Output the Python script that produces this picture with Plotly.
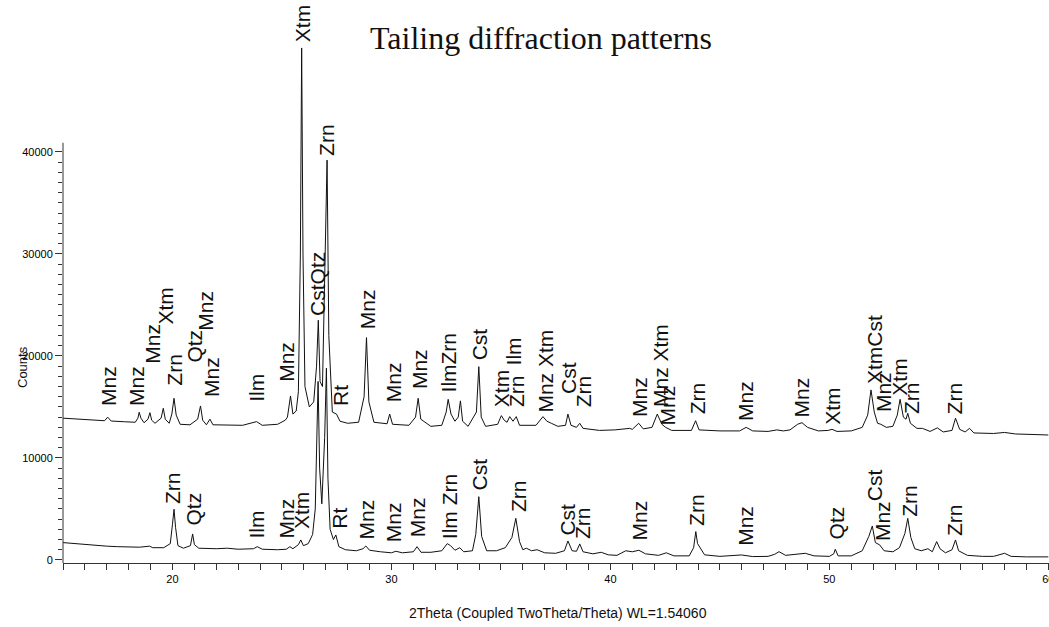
import plotly.graph_objects as go

# ---------------- data ----------------
top_theta = [15.0, 15.5, 16.0, 16.5, 16.9, 17.04, 17.2, 17.8, 18.3, 18.42, 18.48, 18.56, 18.7, 18.88, 18.97, 19.05,
             19.2, 19.48, 19.58, 19.67, 19.85, 19.97, 20.07, 20.17, 20.35, 20.8, 21.15, 21.28, 21.38, 21.55, 21.71,
             21.85, 22.5, 23.2, 23.84, 24.1, 24.8, 25.15, 25.25, 25.39, 25.5, 25.65, 25.75, 25.84, 25.9, 25.96, 26.05,
             26.25, 26.45, 26.58, 26.66, 26.74, 26.85, 26.98, 27.06, 27.14, 27.3, 27.49, 27.65, 28.0, 28.5, 28.75,
             28.86, 28.97, 29.2, 29.8, 29.92, 30.05, 30.8, 31.1, 31.22, 31.34, 31.8, 32.3, 32.5, 32.59, 32.72, 32.9,
             33.05, 33.15, 33.25, 33.5, 33.88, 33.99, 34.1, 34.3, 34.85, 35.02, 35.15, 35.28, 35.4, 35.55, 35.7,
             35.85, 36.6, 36.92, 37.1, 37.3, 37.6, 37.95, 38.06, 38.2, 38.45, 38.6, 38.75, 39.5, 40.2, 40.88, 41.0,
             41.29, 41.5, 41.9, 42.14, 42.35, 42.52, 42.8, 43.7, 43.89, 44.05, 45.0, 45.9, 46.2, 46.5, 47.2, 47.6,
             47.9, 48.2, 48.55, 48.75, 49.0, 49.5, 49.95, 50.12, 50.35, 51.0, 51.5, 51.75, 51.9, 52.05, 52.2, 52.35,
             52.6, 52.9, 53.1, 53.23, 53.38, 53.5, 53.58, 53.7, 54.0, 54.25, 54.6, 54.93, 55.2, 55.6, 55.76, 55.95,
             56.2, 56.4, 56.6, 57.5, 58.0, 58.5, 59.3, 60.0]
top_counts = [13900, 13850, 13780, 13700, 13650, 14000, 13620, 13550, 13500, 13900, 14480, 13900, 13450, 13800, 14440,
              13700, 13400, 13900, 14870, 13800, 13400, 14300, 15850, 14200, 13300, 13250, 13800, 15100, 13700, 13250,
              13800, 13250, 13200, 13200, 13560, 13200, 13300, 13700, 14000, 16080, 14300, 14600, 16500, 30000, 50200,
              30000, 17000, 15000, 15500, 19000, 23500, 17500, 17000, 30000, 39200, 22000, 14500, 14300, 13600, 13400,
              13500, 16000, 21800, 15500, 13500, 13350, 14300, 13300, 13200, 14000, 15850, 13800, 13100, 13200, 14500,
              15750, 14300, 13600, 14000, 15600, 13600, 13100, 14500, 18950, 14000, 13100, 13300, 14150, 13700, 13500,
              14050, 13600, 14050, 13200, 13200, 14050, 13600, 13400, 13100, 13200, 14300, 13200, 13000, 13400, 12900,
              12700, 12750, 12900, 12800, 13400, 12850, 13000, 14300, 13300, 13000, 12700, 12700, 13650, 12750, 12650,
              12650, 13000, 12650, 12600, 12750, 12650, 12750, 13300, 13460, 13000, 12650, 12700, 12810, 12600, 12650,
              13000, 14200, 16670, 14500, 13400, 13300, 13000, 13100, 14200, 15750, 14000, 13800, 14380, 13400, 12900,
              12900, 12600, 12950, 12550, 12700, 13900, 12800, 12550, 12900, 12450, 12400, 12500, 12350, 12300, 12250]

bottom_theta = [15.0, 15.5, 16.0, 16.5, 17.0, 17.5, 18.0, 18.5, 18.95, 19.1, 19.6, 19.9, 20.0, 20.07, 20.14, 20.25,
                20.5, 20.82, 20.92, 21.0, 21.2, 22.0, 22.5, 23.0, 23.7, 23.87, 24.1, 24.8, 25.2, 25.36, 25.5, 25.75,
                25.86, 25.98, 26.2, 26.4, 26.52, 26.6, 26.65, 26.72, 26.82, 26.95, 27.03, 27.1, 27.2, 27.35, 27.46,
                27.6, 27.9, 28.4, 28.7, 28.83, 29.0, 29.5, 30.0, 30.2, 30.5, 31.0, 31.17, 31.35, 31.8, 32.3, 32.55,
                32.7, 32.9, 33.12, 33.3, 33.7, 33.85, 33.99, 34.12, 34.35, 34.8, 35.2, 35.5, 35.68, 35.85, 36.0, 36.16,
                36.4, 36.65, 37.0, 37.5, 37.9, 38.06, 38.25, 38.45, 38.6, 38.75, 39.2, 39.58, 39.9, 40.3, 40.7, 41.0,
                41.3, 41.6, 42.2, 42.55, 42.9, 43.6, 43.8, 43.9, 43.98, 44.1, 44.3, 45.0, 45.98, 46.5, 47.2, 47.5,
                47.7, 48.0, 48.5, 48.9, 49.3, 50.0, 50.2, 50.27, 50.4, 51.0, 51.5, 51.8, 51.96, 52.1, 52.3, 52.5,
                52.9, 53.2, 53.45, 53.58, 53.72, 53.9, 54.2, 54.5, 54.7, 54.9, 55.05, 55.3, 55.6, 55.76, 55.9, 56.3,
                57.0, 57.5, 58.0, 58.3, 59.0, 60.0]
bottom_counts = [1700, 1600, 1500, 1400, 1350, 1300, 1250, 1250, 1350, 1200, 1200, 1600, 3500, 4970, 3200, 1400,
                 1150, 1400, 2550, 1500, 1150, 1100, 1150, 1050, 1100, 1300, 1050, 1000, 1050, 1300, 1100, 1500,
                 1960, 1400, 1600, 2500, 5000, 12000, 17500, 9000, 5500, 12000, 18800, 8000, 3000, 2000, 2450,
                 1300, 1000, 900, 1100, 1370, 950, 800, 700, 850, 700, 800, 1300, 750, 750, 900, 1600,
                 1400, 950, 1200, 800, 900, 2500, 6200, 2300, 900, 900, 1200, 2200, 4080, 1800, 1000, 1150,
                 900, 1000, 700, 650, 900, 1860, 900, 850, 1570, 800, 600, 750, 500, 450, 900, 800,
                 950, 600, 450, 700, 400, 400, 1200, 2780, 1600, 1200, 500, 350, 490, 330, 350, 550,
                 810, 450, 600, 650, 400, 350, 600, 1050, 400, 400, 900, 2300, 3330, 1700, 1470, 900,
                 800, 1200, 2600, 4080, 2200, 1100, 900, 1100, 800, 1800, 1100, 700, 1000, 1960, 900, 450,
                 350, 350, 650, 350, 300, 300]

top_label_text = ["Mnz", "Mnz", "Mnz", "Xtm", "Zrn", "Qtz", "Mnz", "Mnz", "Ilm", "Mnz", "Xtm", "CstQtz", "Zrn",
                  "Rt", "Mnz", "Mnz", "Mnz", "IlmZrn", "Cst", "Xtm", "Ilm", "Zrn", "Mnz Xtm", "Cst", "Zrn",
                  "Mnz", "Mnz Xtm", "Mnz", "Zrn", "Mnz", "Mnz", "Xtm", "XtmCst", "Mnz", "Xtm", "Zrn", "Zrn"]
top_label_theta = [17.11, 18.39, 19.05, 19.7, 20.11, 21.02, 21.53, 21.79, 23.84, 25.21, 25.97, 26.65, 27.06,
                   27.64, 28.89, 30.07, 31.26, 32.59, 34.03, 35.02, 35.58, 35.68, 37.05, 38.06, 38.75,
                   41.34, 42.32, 42.62, 43.97, 46.2, 48.71, 50.13, 52.06, 52.44, 53.2, 53.73, 55.71]
top_label_base = [15020, 15020, 19110, 23030, 16980, 19280, 22370, 15850, 15360, 17320, 50640, 23840, 39520,
                  15020, 22540, 15360, 16660, 16340, 19440, 14870, 18940, 14870, 14380, 16170, 14870,
                  13890, 14870, 13070, 14210, 13550, 13890, 13130, 17150, 14380, 16000, 14210, 14210]

bottom_label_text = ["Zrn", "Qtz", "Ilm", "Mnz", "Xtm", "Rt", "Mnz", "Mnz", "Mnz", "Ilm Zrn", "Cst", "Zrn",
                     "Cst", "Zrn", "Mnz", "Zrn", "Mnz", "Qtz", "Cst", "Mnz", "Zrn", "Zrn"]
bottom_label_theta = [20.03, 20.95, 23.84, 25.21, 25.9, 27.62, 28.86, 30.07, 31.17, 32.66, 34.03, 35.77,
                      38.06, 38.75, 41.34, 43.92, 46.2, 50.3, 52.05, 52.42, 53.66, 55.71]
bottom_label_base = [5390, 3260, 1960, 1960, 2940, 2940, 1960, 1640, 2130, 1960, 6690, 4580,
                     2280, 1960, 1790, 3260, 1300, 1960, 5680, 1790, 4090, 2280]

x_major_ticks = [20, 30, 40, 50, 60]
y_major_ticks = [0, 10000, 20000, 30000, 40000]
y_minor_ticks = [v for v in range(1000, 40001, 1000) if v % 10000 != 0]

title_text = "Tailing diffraction patterns"
x_title = "2Theta (Coupled TwoTheta/Theta) WL=1.54060"
y_title = "Counts"

# ---------------- figure ----------------
SANS = "Liberation Sans, Arial, sans-serif"
LABEL_FONT = dict(family=SANS, size=21, color="#111")
AX_COLOR = "#333"
PLOT_L, PLOT_T, PLOT_B = 63, 20, 563
PLOT_W, PLOT_H = 1049 - PLOT_L, PLOT_B - PLOT_T

fig = go.Figure()
fig.add_trace(go.Scatter(x=top_theta, y=top_counts, mode="lines",
                         line=dict(color="#111", width=1), hoverinfo="skip", showlegend=False))
fig.add_trace(go.Scatter(x=bottom_theta, y=bottom_counts, mode="lines",
                         line=dict(color="#111", width=1), hoverinfo="skip", showlegend=False))

for t, x, y in zip(top_label_text + bottom_label_text,
                   top_label_theta + bottom_label_theta,
                   top_label_base + bottom_label_base):
    fig.add_annotation(x=x, y=y, xref="x", yref="y", text=t, textangle=-90,
                       showarrow=False, xanchor="center", yanchor="bottom",
                       font=LABEL_FONT, borderpad=0)

fig.add_annotation(text=title_text, xref="paper", yref="paper",
                   x=(541 - PLOT_L) / PLOT_W, y=(PLOT_B - 38) / PLOT_H,
                   showarrow=False, xanchor="center", yanchor="middle",
                   font=dict(family="Liberation Serif, Times New Roman, serif", size=32, color="#111"))
fig.add_annotation(text=y_title, xref="paper", yref="paper",
                   x=(22 - PLOT_L) / PLOT_W, y=(PLOT_B - 367) / PLOT_H,
                   showarrow=False, textangle=-90, xanchor="center", yanchor="middle",
                   font=dict(family=SANS, size=13, color="#111"))
fig.add_annotation(text=x_title, xref="paper", yref="paper",
                   x=(558 - PLOT_L) / PLOT_W, y=(PLOT_B - 613) / PLOT_H,
                   showarrow=False, xanchor="center", yanchor="middle",
                   font=dict(family=SANS, size=14, color="#111"))

# y-axis line drawn only up to just above 40000
fig.add_shape(type="line", xref="paper", yref="y", x0=0, x1=0, y0=-300, y1=40900,
              line=dict(color=AX_COLOR, width=1))

fig.update_xaxes(range=[15, 60.03], tickmode="array", tickvals=x_major_ticks, automargin=False,
                 ticklabeloverflow="allow",
                 ticks="outside", ticklen=6, tickcolor=AX_COLOR, tickwidth=1,
                 showline=True, linecolor=AX_COLOR, linewidth=1, showgrid=False, zeroline=False,
                 minor=dict(tickmode="linear", tick0=15, dtick=1, ticks="outside", ticklen=6,
                            tickcolor=AX_COLOR, tickwidth=1, showgrid=False),
                 tickfont=dict(family=SANS, size=11, color="#000"))
fig.update_yaxes(range=[-300, 52940], tickmode="array", tickvals=y_major_ticks, automargin=False,
                 ticktext=[str(v) for v in y_major_ticks],
                 ticks="outside", ticklen=7, tickcolor=AX_COLOR, tickwidth=1,
                 showline=False, showgrid=False, zeroline=False,
                 minor=dict(tickmode="array", tickvals=y_minor_ticks, ticks="outside", ticklen=4,
                            tickcolor=AX_COLOR, tickwidth=1, showgrid=False),
                 tickfont=dict(family=SANS, size=11, color="#000"))

fig.update_layout(width=1049, height=627,
                  margin=dict(l=PLOT_L, r=0, t=PLOT_T, b=627 - PLOT_B, autoexpand=False),
                  plot_bgcolor="white", paper_bgcolor="white", showlegend=False)

fig.write_html("out.html", config={"displayModeBar": False},
               post_script="document.body.style.margin='0';document.body.style.overflow='hidden';")
